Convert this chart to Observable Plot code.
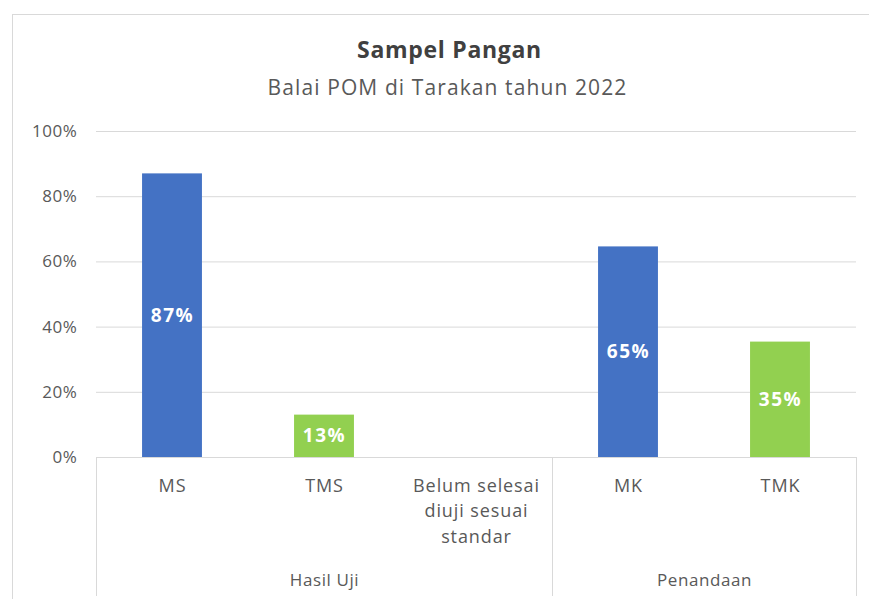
<!DOCTYPE html>
<html><head><meta charset="utf-8">
<script src="https://cdn.jsdelivr.net/npm/d3@7"></script>
<script src="https://cdn.jsdelivr.net/npm/@observablehq/plot@0.6"></script>
<style>
body{margin:0;background:#fff;font-family:"Open Sans",sans-serif}
#wrap{position:relative;width:869px;height:599px;overflow:hidden}
#border{position:absolute;left:12px;top:14px;width:1000px;height:1000px;border:1px solid #d9d9d9;pointer-events:none}
</style></head><body><div id="wrap"><div id="border"></div></div>
<script>
const title = "Sampel Pangan";
const subtitle = "Balai POM di Tarakan tahun 2022";
const categories = ["MS", "TMS", "Belum selesai\ndiuji sesuai\nstandar", "MK", "TMK"];
const values = [87, 13, 0, 64.6, 35.4];
const groups = ["Hasil Uji", "Hasil Uji", "Hasil Uji", "Penandaan", "Penandaan"];
const series = ["Memenuhi", "Tidak", "Tidak", "Memenuhi", "Tidak"];
const seriesNames = ["Memenuhi", "Tidak"];
const seriesColors = ["#4472C4", "#92D050"];
const yTicks = [0, 20, 40, 60, 80, 100];

const rows = categories.map((c, i) => ({i, cat: c, value: values[i], group: groups[i], series: series[i]}));
const groupSpans = Array.from(d3.group(rows, d => d.group), ([g, rs]) => {
  const lo = d3.min(rs, d => d.i) - 0.5, hi = d3.max(rs, d => d.i) + 0.5;
  return {group: g, lo, hi, mid: (lo + hi) / 2};
});
const bounds = Array.from(new Set(groupSpans.flatMap(d => [d.lo, d.hi])));

// render helper: apply letter-spacing to a text mark
const spaced = ls => (index, scales, vals, dims, ctx, next) => {
  const g = next(index, scales, vals, dims, ctx);
  g.setAttribute("letter-spacing", ls);
  return g;
};

const plot = Plot.plot({
  width: 869, height: 599,
  marginTop: 131, marginBottom: 142, marginLeft: 96, marginRight: 13,
  style: {fontFamily: "'Open Sans', sans-serif", fontSize: "17px", color: "#595959", background: "transparent", overflow: "visible"},
  x: {type: "linear", domain: [-0.5, categories.length - 0.5], axis: null},
  y: {domain: [0, 100], axis: null},
  color: {domain: seriesNames, range: seriesColors},
  marks: [
    Plot.gridY(yTicks, {stroke: "#d9d9d9", strokeOpacity: 1}),
    Plot.text(yTicks, {y: d => d, text: d => d + "%", frameAnchor: "left", textAnchor: "end", dx: -19, fill: "#595959", fontSize: 17, render: spaced(0.6)}),
    Plot.rectY(rows, {x1: d => d.i - 0.197, x2: d => d.i + 0.197, y: "value", fill: "series"}),
    Plot.ruleY([0], {stroke: "#d9d9d9", strokeOpacity: 1}),
    Plot.text(rows.filter(d => d.value > 0), {x: "i", y: d => d.value / 2, text: d => Math.round(d.value) + "%", fill: "white", fontWeight: "bold", fontSize: 19, render: spaced(1.5)}),
    Plot.text(rows, {x: "i", text: "cat", frameAnchor: "bottom", lineAnchor: "top", dy: 16, lineHeight: 1.42, fill: "#595959", fontSize: 18, render: spaced(0.9)}),
    Plot.ruleX(bounds, {x: d => d, stroke: "#d9d9d9", strokeOpacity: 1,
      render: (index, scales, vals, dims, context, next) => {
        const g = next(index, scales, vals, dims, context);
        g.querySelectorAll("line").forEach(l => {
          l.setAttribute("y1", dims.height - dims.marginBottom);
          l.setAttribute("y2", dims.height - 3);
        });
        return g;
      }}),
    Plot.text(groupSpans, {x: "mid", text: "group", frameAnchor: "bottom", lineAnchor: "middle", dy: 123, fill: "#595959", fontSize: 17, render: spaced(0.6)}),
    Plot.text([title], {frameAnchor: "top", lineAnchor: "middle", dy: -81, dx: -27, fontWeight: "bold", fontSize: 23, fill: "#404040", render: spaced(0.7)}),
    Plot.text([subtitle], {frameAnchor: "top", lineAnchor: "middle", dy: -43, dx: -29, fontSize: 21, fill: "#595959", render: spaced(1.1)})
  ]
});
document.getElementById("wrap").prepend(plot);
</script>
</body></html>
